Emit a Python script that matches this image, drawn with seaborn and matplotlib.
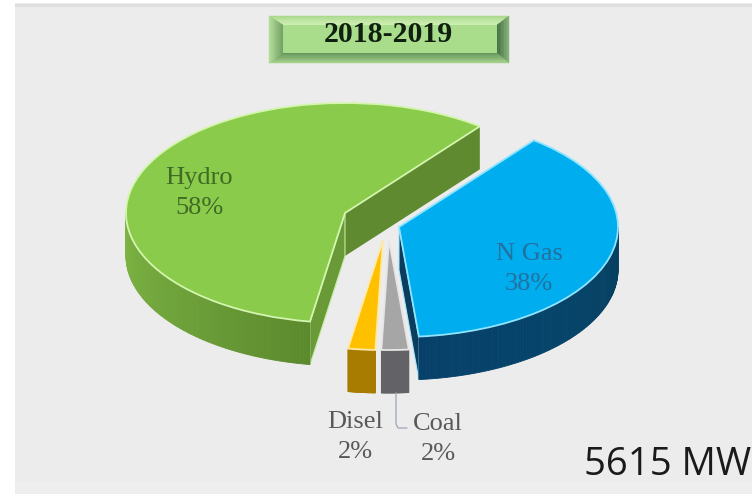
import numpy as np
import matplotlib
matplotlib.use("Agg")
import matplotlib.pyplot as plt
from matplotlib.colors import to_rgb
from matplotlib.patches import Polygon, Rectangle
import seaborn as sns

# Generation mix for the year
year_label = "2018-2019"
capacity_label = "5615 MW"
sources = ["Hydro", "Disel", "Coal", "N Gas"]
shares = [58, 2, 2, 38]

top_colors = ["#8acb4b", "#ffc000", "#a6a6a6", "#00adef"]
edge_colors = ["#d4f5ae", "#ffe9a8", "#e6e6e6", "#8fe4ff"]
label_colors = ["#3f6b25", "#595959", "#595959", "#24709f"]

W, H = 752, 494
RX, RY, DEPTH = 219, 110, 43
START = 52

# Apex of each exploded slice, in pixels
apex = {"Hydro": (345, 213), "Disel": (383, 240), "Coal": (389, 240), "N Gas": (399, 227)}

sns.set_theme(style="white")
plt.rcParams["font.family"] = ["Liberation Serif", "DejaVu Serif"]

fig = plt.figure(figsize=(W / 100, H / 100), dpi=100, facecolor="white")
ax = fig.add_axes([0, 0, 1, 1])


def to_data(x, y):
    return x / RX, (H - y) / RY


def rim_xy(name, theta, drop=0):
    x0, y0 = apex[name]
    t = np.radians(theta)
    return np.cos(t) + x0 / RX, np.sin(t) + (H - y0 - drop) / RY


def px_poly(points, **kw):
    ax.add_patch(Polygon([to_data(*p) for p in points], closed=True, **kw))


def shade(c1, c2, f):
    a, b = np.array(to_rgb(c1)), np.array(to_rgb(c2))
    return tuple(a + (b - a) * f)


# Angular span of each slice comes from the shares
edges = START + np.concatenate([[0], np.cumsum(shares)]) * 3.6
span = {n: (edges[i], edges[i + 1]) for i, n in enumerate(sources)}


def outer_wall(name, t1, t2, c_left, c_mid, c_right, zorder):
    steps = np.linspace(t1, t2, 90)
    for i in range(len(steps) - 1):
        a, b = steps[i], steps[i + 1]
        f = i / (len(steps) - 2)
        col = shade(c_left, c_mid, f * 2) if f < 0.5 else shade(c_mid, c_right, f * 2 - 1)
        pts = [rim_xy(name, a), rim_xy(name, b), rim_xy(name, b, DEPTH), rim_xy(name, a, DEPTH)]
        ax.add_patch(Polygon(pts, closed=True, fc=col, ec=col, lw=0.6, zorder=zorder))


def cut_face(name, theta, color, zorder, ec="none"):
    top_a = to_data(*apex[name])
    low_a = to_data(apex[name][0], apex[name][1] + DEPTH)
    pts = [top_a, rim_xy(name, theta), rim_xy(name, theta, DEPTH), low_a]
    ax.add_patch(Polygon(pts, closed=True, fc=color, ec=ec, lw=0.8, zorder=zorder))


def bevel(out_a, out_b, in_b, in_a, c_out, c_in, zorder, n=8):
    # One side of the badge, shaded from its outer edge to its inner edge
    out_a, out_b, in_a, in_b = map(np.array, (out_a, out_b, in_a, in_b))
    for i in range(n):
        f1, f2 = i / n, (i + 1) / n
        col = shade(c_out, c_in, (i + 0.5) / n)
        px_poly([out_a + (in_a - out_a) * f1, out_b + (in_b - out_b) * f1,
                 out_b + (in_b - out_b) * f2, out_a + (in_a - out_a) * f2],
                fc=col, ec=col, lw=0.3, zorder=zorder)


# Background panel
ax.add_patch(Rectangle((15 / RX, 0), (W - 15) / RX, (H - 3) / RY, fc="#ececec", ec="none", zorder=0))
ax.add_patch(Rectangle((15 / RX, (H - 7) / RY), (W - 15) / RX, 3 / RY, fc="#dedede", ec="none", zorder=0.1))
ax.add_patch(Rectangle((15 / RX, 0), (W - 15) / RX, 12 / RY, fc="#eeeeee", ec="none", zorder=0.1))

# Side walls of the slices
h1, h2 = span["Hydro"]
cut_face("Hydro", h1, "#5f8a30", 2)
cut_face("Hydro", h2, "#6a9a38", 2, ec="#c4eba0")
outer_wall("Hydro", 180, h2, "#7eb544", "#6ea23a", "#5c8a2e", 2)

d1, d2 = span["Disel"]
outer_wall("Disel", d1, d2, "#a87c00", "#a87c00", "#a87c00", 3)
c1, c2 = span["Coal"]
outer_wall("Coal", c1, c2, "#636367", "#636367", "#636367", 3)

g1, g2 = span["N Gas"]
cut_face("N Gas", g1, "#0b3d5e", 2, ec="#a9e6ff")
outer_wall("N Gas", g1, 360, "#07416a", "#06446a", "#064060", 2)

# Top faces: one pie, each wedge then moved to its own apex
wedges, _ = ax.pie(shares, colors=top_colors, startangle=START, radius=1, frame=True,
                   wedgeprops={"linewidth": 1.3})
for wedge, name, edge in zip(wedges, sources, edge_colors):
    wedge.set_center(to_data(*apex[name]))
    wedge.set_edgecolor(edge)
    wedge.set_zorder(5)

ax.set_aspect("auto")
ax.set_xlim(0, W / RX)
ax.set_ylim(0, H / RY)
ax.axis("off")

# Year badge with bevelled edges
oa, ob, oc, od = (269, 16), (509, 16), (509, 63), (269, 63)
ia, ib, ic, id_ = (283, 25), (497, 25), (497, 53), (283, 53)
bevel(oa, ob, ib, ia, "#a8d888", "#cdf0b0", 6)
bevel(ob, oc, ic, ib, "#8ab57a", "#3f703f", 6)
bevel(oc, od, id_, ic, "#a8d48c", "#5f9455", 6)
bevel(od, oa, ia, id_, "#b5e09a", "#6f9f60", 6)
px_poly([ia, ib, ic, id_], fc="#a9dc8b", ec="none", zorder=6)
ax.text(*to_data(388, 34), year_label, fontsize=21.5, fontweight="bold", color="#10200f",
        ha="center", va="center", zorder=7)

# Slice labels
label_spots = [(199, 193), (355, 437), (438, 439), (529, 269)]
for name, share, color, spot in zip(sources, shares, label_colors, label_spots):
    ax.text(*to_data(*spot), f"{name}\n{share}%", fontsize=19, color=color, ha="center",
            va="center", linespacing=1.5, zorder=7)

# Leader line from the coal slice to its label
lx = [396, 396, 398, 407]
ly = [393, 424, 428, 428]
ax.plot([x / RX for x in lx], [(H - y) / RY for y in ly], color="#a4adb8", lw=1, zorder=4)

# Total capacity
ax.text(*to_data(584, 475), capacity_label, fontsize=27.5, color="#1a1a1a", family="Open Sans",
        ha="left", va="baseline", zorder=7, clip_on=True)

fig.savefig("out.png", dpi=100, facecolor="white")
